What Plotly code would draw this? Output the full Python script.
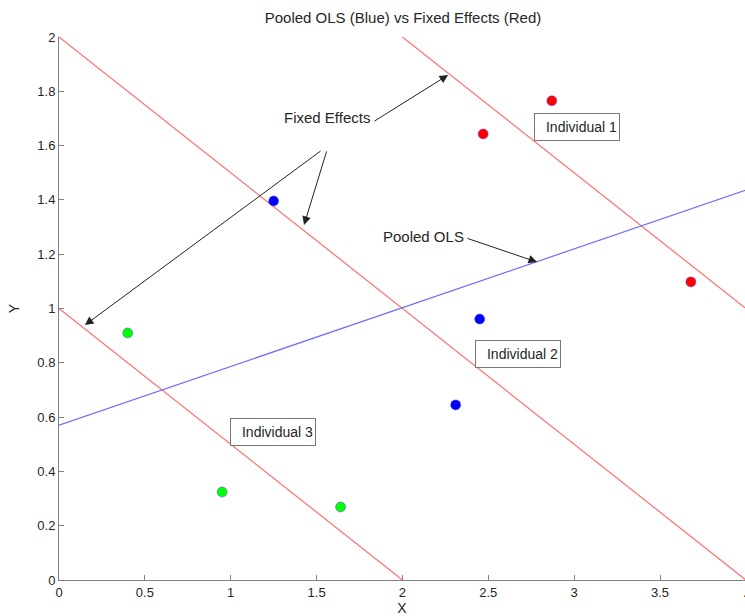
import plotly.graph_objects as go

# Data
ind1_x = [2.87, 2.47, 3.68]
ind1_y = [1.765, 1.643, 1.098]
ind2_x = [1.25, 2.45, 2.31]
ind2_y = [1.396, 0.961, 0.645]
ind3_x = [0.40, 0.95, 1.64]
ind3_y = [0.910, 0.324, 0.269]

# Fixed-effects lines (endpoints) and pooled OLS line
fe_lines_x = [[0, 2], [0, 4], [2, 4]]
fe_lines_y = [[1, 0], [2, 0], [2, 1]]
ols_x = [0, 4]
ols_y = [0.57, 1.436]

x_ticks = [0, 0.5, 1, 1.5, 2, 2.5, 3, 3.5]
y_ticks = [0, 0.2, 0.4, 0.6, 0.8, 1, 1.2, 1.4, 1.6, 1.8, 2]

FONT = "Liberation Sans, Arial, sans-serif"
TXT = "#262626"
RED_LINE = "rgb(255,110,110)"
BLUE_LINE = "rgb(110,110,255)"

fig = go.Figure()

for lx, ly in zip(fe_lines_x, fe_lines_y):
    fig.add_trace(go.Scatter(x=lx, y=ly, mode="lines",
                             line=dict(color=RED_LINE, width=1.2), hoverinfo="skip"))
fig.add_trace(go.Scatter(x=ols_x, y=ols_y, mode="lines",
                         line=dict(color=BLUE_LINE, width=1.2), hoverinfo="skip"))

for xs, ys, col in [(ind1_x, ind1_y, "rgb(255,0,0)"),
                    (ind2_x, ind2_y, "rgb(0,0,255)"),
                    (ind3_x, ind3_y, "rgb(0,255,0)")]:
    fig.add_trace(go.Scatter(x=xs, y=ys, mode="markers",
                             marker=dict(color=col, size=10,
                                         line=dict(color="rgb(90,70,220)", width=0.5))))

annotations = []
# Arrows
arrow_specs = [
    ((1.829, 1.687), (2.266, 1.860)),
    ((1.532, 1.584), (0.151, 0.939)),
    ((1.561, 1.584), (1.427, 1.308)),
    ((2.370, 1.260), (2.784, 1.171)),
]
for (tx, ty), (hx, hy) in arrow_specs:
    annotations.append(dict(x=hx, y=hy, ax=tx, ay=ty, xref="x", yref="y",
                            axref="x", ayref="y", text="", showarrow=True,
                            arrowhead=2, arrowsize=1.7, arrowwidth=1,
                            arrowcolor="#222222"))
annotations.append(dict(x=1.561, y=1.702, xref="x", yref="y", text="Fixed Effects",
                        showarrow=False, font=dict(family=FONT, size=15, color=TXT)))
annotations.append(dict(x=2.12, y=1.267, xref="x", yref="y", text="Pooled OLS",
                        showarrow=False, font=dict(family=FONT, size=15, color=TXT)))
for txt, bx, by in [("Individual 1", 3.017, 1.667),
                    ("Individual 2", 2.673, 0.832),
                    ("Individual 3", 1.246, 0.545)]:
    annotations.append(dict(x=bx, y=by, xref="x", yref="y", text=txt,
                            showarrow=False, width=80, height=22, align="right",
                            bordercolor="#777", borderwidth=1, borderpad=2,
                            bgcolor="white",
                            font=dict(family=FONT, size=14, color=TXT)))
# partially visible "4" tick label at the right edge
annotations.append(dict(x=1.0, y=0, xref="paper", yref="paper", text="4",
                        showarrow=False, xanchor="center", yanchor="top",
                        xshift=2, yshift=-5,
                        font=dict(family=FONT, size=13, color=TXT)))

fig.update_layout(
    width=745, height=616,
    margin=dict(l=59, r=0, t=37, b=36),
    paper_bgcolor="white", plot_bgcolor="white",
    showlegend=False,
    title=dict(text="Pooled OLS (Blue) vs Fixed Effects (Red)", x=403 / 745, xanchor="center",
               y=1 - 18 / 616, yanchor="middle",
               font=dict(family=FONT, size=15, color=TXT)),
    font=dict(family=FONT, size=13, color=TXT),
    annotations=annotations,
    xaxis=dict(range=[0, 3.995], tickvals=x_ticks, ticktext=[f"{v:g}" for v in x_ticks],
               showgrid=False, zeroline=False, showline=True, linecolor="#808080",
               linewidth=1, ticks="inside", ticklen=5, tickcolor="#808080",
               automargin=False,
               title=dict(text="X", standoff=2, font=dict(family=FONT, size=14)),
               fixedrange=True),
    yaxis=dict(range=[0, 2], tickvals=y_ticks, ticktext=[f"{v:g}" for v in y_ticks],
               showgrid=False, zeroline=False, showline=True, linecolor="#808080",
               linewidth=1, ticks="inside", ticklen=5, tickcolor="#808080",
               automargin=False,
               title=dict(text="Y", standoff=14, font=dict(family=FONT, size=14)),
               fixedrange=True),
)

fig.write_html("out.html", config={"displayModeBar": False},
               post_script="document.body.style.margin='0';document.body.style.overflow='hidden';")
